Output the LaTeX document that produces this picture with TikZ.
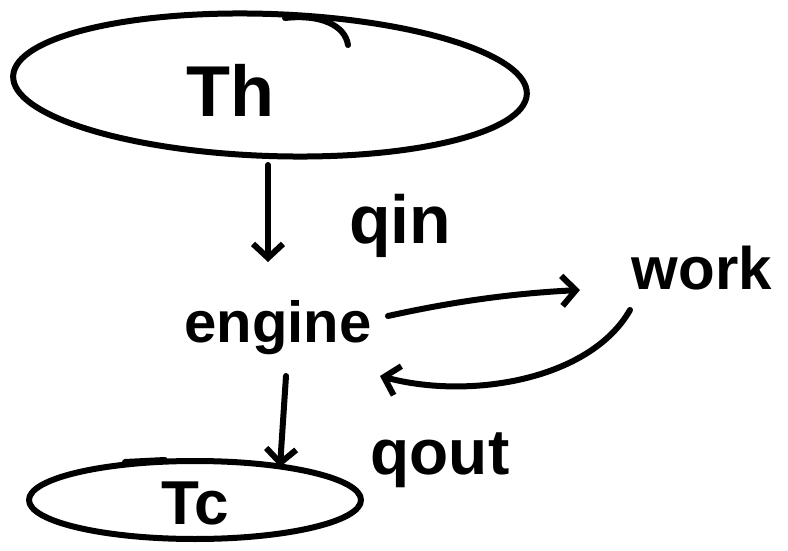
\documentclass[tikz,border=0pt]{standalone}
\usepackage{fontspec}
\setmainfont{Liberation Sans}
\usetikzlibrary{arrows.meta}
\begin{document}
\begin{tikzpicture}[x=1pt,y=-1pt,line width=6pt,line cap=round,line join=round,
  hand/.style={font=\bfseries\fontsize{#1}{#1}\selectfont, inner sep=0pt},
  flow/.style={draw, -{Straight Barb[length=14pt,width=30pt,line width=6pt]}}]
\useasboundingbox (0,0) rectangle (788,551);
% top reservoir
\draw[rotate around={-2:(270,85)}] (270,85) ellipse [x radius=257, y radius=71];
\draw (285,18) .. controls (320,14) and (345,25) .. (348,45);
\node[hand=72] (th) at (230,90) {Th};
\coordinate (thb) at (268,165);
% engine
\node[hand=58] (engine) at (278,328) {engine};
\node[hand=68] (qin) at (400,226) {qin};
\node[hand=60] (work) at (702,268) {work};
\node[hand=64] (qout) at (440,460) {qout};
% bottom reservoir
\draw (195,500) ellipse [x radius=166, y radius=39];
\draw (125,462) -- (165,460);
\node[hand=62] (tc) at (195,503) {Tc};
\coordinate (tct) at (280,467);
% arrows
\draw[flow] (thb) -- (268,262);
\draw[flow] (388,316) .. controls (460,300) and (520,293) .. (580,290);
\draw[flow] (630,310) .. controls (590,380) and (470,400) .. (380,376);
\draw[flow] (286,376) -- (tct);
\end{tikzpicture}
\end{document}
